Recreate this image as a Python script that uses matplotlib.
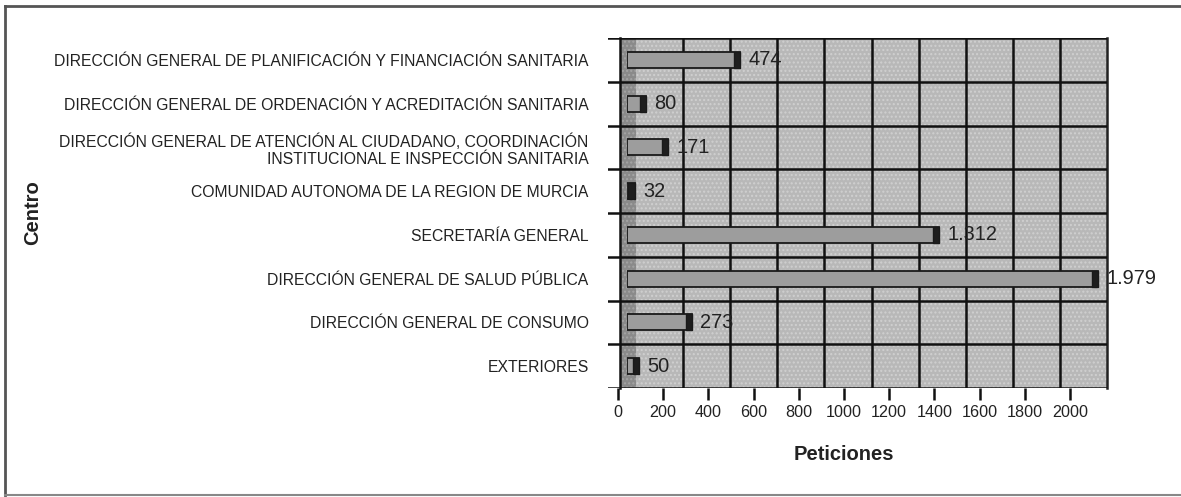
import matplotlib
matplotlib.use("Agg")
import matplotlib.pyplot as plt
from matplotlib.patches import Rectangle

# ---------------- data ----------------
categories = [
    "DIRECCIÓN GENERAL DE PLANIFICACIÓN Y FINANCIACIÓN SANITARIA",
    "DIRECCIÓN GENERAL DE ORDENACIÓN Y ACREDITACIÓN SANITARIA",
    "DIRECCIÓN GENERAL DE ATENCIÓN AL CIUDADANO, COORDINACIÓN\nINSTITUCIONAL E INSPECCIÓN SANITARIA",
    "COMUNIDAD AUTONOMA DE LA REGION DE MURCIA",
    "SECRETARÍA GENERAL",
    "DIRECCIÓN GENERAL DE SALUD PÚBLICA",
    "DIRECCIÓN GENERAL DE CONSUMO",
    "EXTERIORES",
]
values = [474, 80, 171, 32, 1312, 1979, 273, 50]
value_labels = ["474", "80", "171", "32", "1.312", "1.979", "273", "50"]
x_ticks = [0, 200, 400, 600, 800, 1000, 1200, 1400, 1600, 1800, 2000]
x_label = "Peticiones"
y_label = "Centro"

# ---------------- style ----------------
plt.rcParams["font.family"] = ["Liberation Sans", "DejaVu Sans"]
W, H = 1181, 497
fig = plt.figure(figsize=(W / 100, H / 100), dpi=100)
fig.patch.set_facecolor("white")


def rect(l, t, r, b):
    return [l / W, 1 - b / H, (r - l) / W, (b - t) / H]


TOP, BOT = 38, 388
n = len(categories)
ylim = (n - 0.5, -0.5)

# outer page frame
axo = fig.add_axes([0, 0, 1, 1])
axo.set_xlim(0, W)
axo.set_ylim(H, 0)
axo.axis("off")
axo.plot([5, 5], [6, 495], color="#555555", lw=2)
axo.plot([5, W], [6, 6], color="#555555", lw=2)
axo.plot([5, W], [495, 495], color="#888888", lw=1.5)

# back wall (perspective scale)
axw = fig.add_axes(rect(636, TOP, 1107, BOT))
axw.set_xlim(0, 2000)
axw.set_ylim(*ylim)
axw.add_patch(Rectangle((0, 0), 1, 1, transform=axw.transAxes,
                        facecolor="#b8b8b8", edgecolor="#d0d0d0",
                        hatch="....", lw=0, zorder=0))
for t in x_ticks[1:-1]:
    axw.axvline(t, color="#111111", lw=1.8, zorder=1)
for s in axw.spines.values():
    s.set_visible(False)
axw.spines["right"].set_visible(True)
axw.spines["right"].set_linewidth(1.8)
axw.spines["right"].set_color("#222222")
axw.set_xticks([])
axw.set_yticks([])

# side wall strip
axs = fig.add_axes(rect(620, TOP, 636, BOT))
axs.add_patch(Rectangle((0, 0), 1, 1, transform=axs.transAxes,
                        facecolor="#8a8a8a", edgecolor="#a4a4a4",
                        hatch="....", lw=0, zorder=0))
for s in axs.spines.values():
    s.set_visible(False)
axs.spines["left"].set_visible(True)
axs.spines["left"].set_linewidth(1.8)
axs.spines["left"].set_color("#111111")
axs.set_xticks([])
axs.set_yticks([])

# row separators + top/bottom lines (extend into tick stubs on the left)
axg = fig.add_axes(rect(608, TOP, 1107, BOT))
axg.set_ylim(*ylim)
axg.set_xlim(0, 1)
axg.patch.set_alpha(0)
for i in range(n + 1):
    axg.axhline(i - 0.5, color="#111111", lw=1.8, zorder=2)
axg.axis("off")

# category labels
axl = fig.add_axes(rect(608, TOP, 1107, BOT))
axl.set_ylim(*ylim)
axl.patch.set_alpha(0)
axl.set_yticks(range(n))
axl.set_yticklabels(categories, fontsize=11.3, color="#222222",
                    multialignment="right")
axl.tick_params(axis="y", length=0, pad=14)
axl.set_xticks([])
for s in axl.spines.values():
    s.set_visible(False)
axl.set_ylabel(y_label, fontsize=14.5, fontweight="bold", color="#222222",
               labelpad=0)
axl.yaxis.set_label_coords((42 - 608) / (1107 - 608), 0.5)

# bars (mid-depth scale)
BAR_L, BAR_R = 627, 1107
axb = fig.add_axes(rect(BAR_L, TOP, BAR_R, BOT))
axb.set_xlim(0, (BAR_R - BAR_L) / 0.238)
axb.set_ylim(*ylim)
axb.patch.set_alpha(0)
axb.axis("off")
ypos = list(range(n))
cap = 26
axb.barh(ypos, values, height=0.37, color="#9d9d9d", edgecolor="#1a1a1a",
         lw=1.3, zorder=3)
axb.barh(ypos, [min(cap, v) for v in values], left=[max(v - cap, 0) for v in values],
         height=0.37, color="#1e1e1e", edgecolor="#1a1a1a", lw=1.0, zorder=4)
for y, v, lab in zip(ypos, values, value_labels):
    axb.annotate(lab, (v, y), xytext=(6, 0), textcoords="offset points",
                 ha="left", va="center", fontsize=14.4, color="#222222",
                 zorder=5)

# front tick axis
axt = fig.add_axes(rect(618, TOP, 1070, BOT))
axt.set_xlim(0, 2000)
axt.patch.set_alpha(0)
for s in axt.spines.values():
    s.set_visible(False)
axt.set_yticks([])
axt.set_xticks(x_ticks)
axt.set_xticklabels([str(t) for t in x_ticks], fontsize=11.6, color="#222222")
axt.tick_params(axis="x", direction="out", length=8.5, width=1.8,
                color="#111111", pad=4)
axt.set_xlabel(x_label, fontsize=14.5, fontweight="bold", color="#222222",
               labelpad=18)

fig.savefig("out.png", dpi=100)
